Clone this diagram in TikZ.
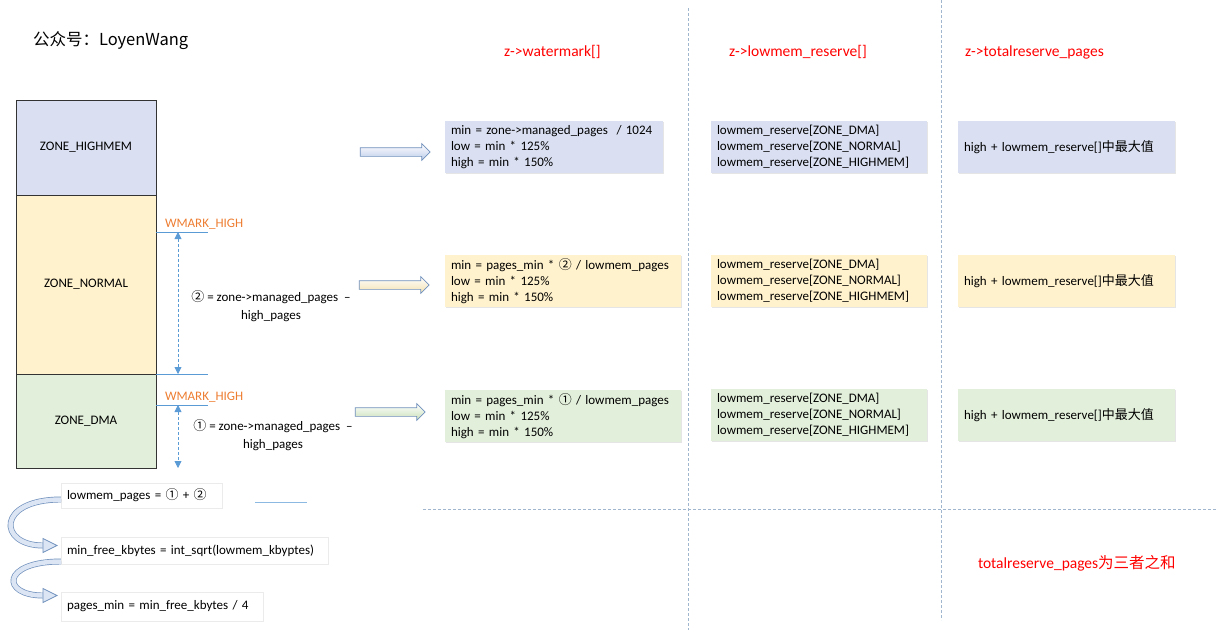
\documentclass[tikz,border=0pt]{standalone}
\usepackage{fontspec}
\setmainfont{Carlito}
\newfontfamily\cjk{Noto Sans CJK SC}
\usetikzlibrary{positioning,shapes.arrows,arrows.meta,shadows}

\definecolor{highblue}{HTML}{DAE0F2}
\definecolor{normalyellow}{HTML}{FFF2CC}
\definecolor{dmagreen}{HTML}{E2EFDA}
\definecolor{higharrowfill}{HTML}{BCCBEA}
\definecolor{normalarrowfill}{HTML}{F2E0AE}
\definecolor{dmaarrowfill}{HTML}{C8DFB8}
\definecolor{wlineblue}{HTML}{5B9BD5}
\definecolor{worange}{HTML}{ED7D31}
\definecolor{gridblue}{HTML}{9FB6CE}
\definecolor{arrowedge}{HTML}{7090BC}
\definecolor{arrowfill}{HTML}{DCE5F4}

\begin{document}
\begin{tikzpicture}[x=1pt,y=-1pt,
      every node/.style={inner sep=0pt, outer sep=0pt},
      zone/.style={draw=black!80, line width=0.9pt, minimum width=140pt,
                   font=\fontsize{13}{15}\selectfont},
      info/.style={anchor=north west, align=left, inner xsep=6pt, minimum height=52pt,
                   font=\fontsize{13}{16}\selectfont,
                   drop shadow={shadow xshift=1.2pt, shadow yshift=-1.2pt, opacity=0.25, fill=black!40}},
      formula/.style={anchor=north west, align=left, inner xsep=6pt, fill=white, draw=black!8,
                   font=\fontsize{13}{16}\selectfont,
                   drop shadow={shadow xshift=1.2pt, shadow yshift=-1.2pt, opacity=0.15, fill=black!40}},
      heading/.style={anchor=west, text=red, font=\fontsize{15.5}{18}\selectfont},
      wmark/.style={anchor=west, text=worange, font=\fontsize{13}{15}\selectfont},
      wline/.style={draw=wlineblue, line width=0.8pt},
      wspan/.style={draw=wlineblue, line width=0.9pt, dash pattern=on 3pt off 2pt,
                   arrows={Triangle[length=7pt,width=7pt]-Triangle[length=7pt,width=7pt]}},
      note/.style={align=center, font=\fontsize{13}{18}\selectfont},
      blockarrow/.style={single arrow, draw=arrowedge, line width=0.7pt, minimum height=70pt,
                    inner ysep=4pt, minimum width=16pt, single arrow head extend=4pt},
      gridline/.style={draw=gridblue, line width=0.9pt, dash pattern=on 3pt off 2pt},
      bendshaft/.style={draw=arrowedge, line width=0.7pt, double=arrowfill, double distance=4.5pt},
      bendhead/.style={draw=arrowedge, line width=0.7pt, fill=arrowfill, line join=miter}
    ]
    \useasboundingbox (0,0) rectangle (1218,633);

    \node[anchor=west, font=\cjk\fontsize{16.5}{18}\selectfont] (title) at (33,41) {公众号：LoyenWang};

    % zones
    \node[zone, fill=highblue, minimum height=95pt, anchor=north west] (highmem) at (16,100) {ZONE\_HIGHMEM};
    \node[zone, fill=normalyellow, minimum height=179pt, below=0pt of highmem] (normal) {ZONE\_NORMAL};
    \node[zone, fill=dmagreen, minimum height=94pt, below=0pt of normal] (dma) {ZONE\_DMA};

    % watermarks
    \coordinate (nmark) at (156,232);
    \coordinate (dmark) at (156,405);
    \draw[wline] (nmark) -- ++(52,0);
    \draw[wline] (normal.south east) -- ++(52,0);
    \draw[wline] (dmark) -- ++(52,0);
    \node[wmark] (nmarktext) at (165,224) {WMARK\_HIGH};
    \node[wmark] (dmarktext) at (165,397) {WMARK\_HIGH};
    \draw[wspan] ([xshift=22pt]nmark) -- ([xshift=22pt]normal.south east);
    \draw[wspan] ([xshift=22pt]dmark) -- ([xshift=22pt]dma.south east);

    \node[note] (normaldiff) at (271,306) {{\cjk ②} = zone->managed\_pages~ –\\high\_pages};
    \node[note] (dmadiff) at (273,435) {{\cjk ①} = zone->managed\_pages~ –\\high\_pages};

    % block arrows
    \node[blockarrow, top color=white, bottom color=higharrowfill] (higharrow) at (393,152) {};
    \node[blockarrow, top color=white, bottom color=normalarrowfill] (normalarrow) at (392,285) {};
    \node[blockarrow, top color=white, bottom color=dmaarrowfill] (dmaarrow) at (388,412) {};

    % headings
    \node[heading] (wmhead) at (504,52) {z->watermark[]};
    \node[heading] (reshead) at (729,52) {z->lowmem\_reserve[]};
    \node[heading] (tothead) at (965,52) {z->totalreserve\_pages};

    % grid
    \draw[gridline] (688,8) -- (688,630);
    \draw[gridline] (941,0) -- (941,620);
    \draw[gridline] (423,509) -- (1218,509);

    % watermark column
    \node[info, fill=highblue, text width=206pt] (highwm) at (445,121)
        {min = zone->managed\_pages~ / 1024\\low = min * 125\%\\high = min * 150\%};
    \node[info, fill=normalyellow, text width=224pt] (normalwm) at (445,255)
        {min = pages\_min * {\cjk ②} / lowmem\_pages\\low = min * 125\%\\high = min * 150\%};
    \node[info, fill=dmagreen, text width=224pt] (dmawm) at (445,390)
        {min = pages\_min * {\cjk ①} / lowmem\_pages\\low = min * 125\%\\high = min * 150\%};

    % lowmem_reserve column
    \node[info, fill=highblue, text width=204pt] (highres) at (711,121)
        {lowmem\_reserve[ZONE\_DMA]\\lowmem\_reserve[ZONE\_NORMAL]\\lowmem\_reserve[ZONE\_HIGHMEM]};
    \node[info, fill=normalyellow, text width=204pt] (normalres) at (711,255)
        {lowmem\_reserve[ZONE\_DMA]\\lowmem\_reserve[ZONE\_NORMAL]\\lowmem\_reserve[ZONE\_HIGHMEM]};
    \node[info, fill=dmagreen, text width=204pt] (dmares) at (711,389)
        {lowmem\_reserve[ZONE\_DMA]\\lowmem\_reserve[ZONE\_NORMAL]\\lowmem\_reserve[ZONE\_HIGHMEM]};

    % totalreserve column
    \node[info, fill=highblue, text width=205pt] (hightot) at (958,121) {high + lowmem\_reserve[]{\cjk 中最大值}};
    \node[info, fill=normalyellow, text width=205pt] (normaltot) at (958,255) {high + lowmem\_reserve[]{\cjk 中最大值}};
    \node[info, fill=dmagreen, text width=205pt] (dmatot) at (958,389) {high + lowmem\_reserve[]{\cjk 中最大值}};

    \node[heading] (totnote) at (978,563) {totalreserve\_pages{\cjk 为三者之和}};

    % pages_min steps
    \node[formula, minimum height=25pt, text width=149pt] (lowmem) at (61,483) {lowmem\_pages = {\cjk ①} + {\cjk ②}};
    \node[formula, minimum height=27pt, text width=255pt] (minfree) at (61,537) {min\_free\_kbytes = int\_sqrt(lowmem\_kbyptes)};
    \node[formula, minimum height=29pt, text width=190pt] (pagesmin) at (61,592) {pages\_min = min\_free\_kbytes / 4};
    \draw[wline, draw=wlineblue!70] (255,502) -- (307,502);

    \coordinate (tip1) at ([xshift=-4pt,yshift=5pt]minfree.west);
    \coordinate (tip2) at ([xshift=-4pt,yshift=11pt]pagesmin.west);
    \draw[bendshaft] ([yshift=-4pt]lowmem.west) .. controls +(-65,0) and +(-45,0) .. ([xshift=-14pt]tip1);
    \draw[bendhead] ([xshift=-14pt,yshift=7pt]tip1) -- (tip1) -- ([xshift=-14pt,yshift=-7pt]tip1) -- cycle;
    \draw[bendshaft] ([yshift=-11pt]minfree.west) .. controls +(-60,0) and +(-42,0) .. ([xshift=-14pt]tip2);
    \draw[bendhead] ([xshift=-14pt,yshift=7pt]tip2) -- (tip2) -- ([xshift=-14pt,yshift=-7pt]tip2) -- cycle;
\end{tikzpicture}
\end{document}
